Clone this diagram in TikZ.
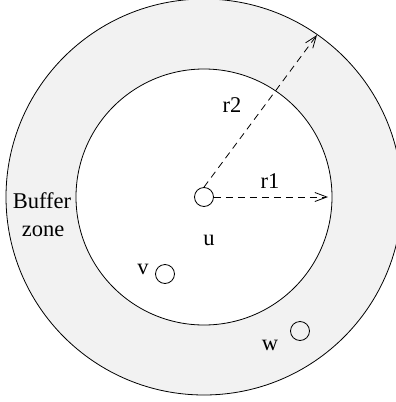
\documentclass[tikz,border=0pt]{standalone}
\usepackage{fontspec}
\setmainfont{Liberation Serif}
\usetikzlibrary{arrows.meta}
\definecolor{zonegray}{HTML}{F2F2F2}
\begin{document}
\begin{tikzpicture}[x=1pt,y=-1pt,
  ring/.style={draw=black,line width=0.8pt},
  dot/.style={circle,draw=black,line width=0.8pt,minimum size=19pt,inner sep=0pt},
  lbl/.style={font=\fontsize{22.5}{28}\selectfont,inner sep=0pt,anchor=base},
  radiusarrow/.style={line width=0.8pt,dash pattern=on 7pt off 5pt,-{Straight Barb[length=12pt,width=9pt]}}]
\useasboundingbox (0,0) rectangle (396,402);
\coordinate (c) at (204,197);
\fill[zonegray,even odd rule] (c) circle[radius=198] (c) circle[radius=128];
\draw[ring] (c) circle[radius=198];
\draw[ring] (c) circle[radius=128];
\node[dot] (u) at (c) {};
\node[dot] (v) at (165,274) {};
\node[dot] (w) at (300,331) {};
\coordinate (r1end) at (328,197);
\coordinate (r2end) at (317,35);
\draw[radiusarrow] (u.east) -- (r1end);
\draw[radiusarrow] (u.north) -- (r2end);
\node[lbl] (r1) at (270,188) {r1};
\node[lbl] (r2) at (232,112) {r2};
\node[lbl] (ulbl) at (209,245) {u};
\node[lbl] (vlbl) at (143,274) {v};
\node[lbl] (wlbl) at (270,350.5) {w};
\node[lbl] (buf1) at (42,208) {Buffer};
\node[lbl] (buf2) at (43,236) {zone};
\end{tikzpicture}
\end{document}
